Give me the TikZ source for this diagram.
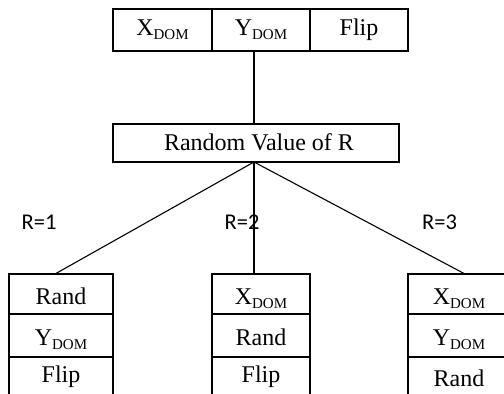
\documentclass[tikz,border=0pt]{standalone}
\usepackage{fontspec}
\setmainfont{Liberation Serif}
\newfontfamily\labfont{Carlito}
\newcommand{\dom}[1]{#1\raisebox{-4pt}{\fontsize{15}{15}\selectfont DOM}}
\begin{document}
\begin{tikzpicture}[x=1pt,y=-1pt,
  cell/.style={draw, line width=1.1pt, inner sep=0pt, font=\fontsize{24}{26}\selectfont, anchor=center},
  rowtop/.style={cell, minimum height=42pt, text height=15pt, text depth=5pt},
  rowa/.style={cell, minimum height=40pt, text height=22pt, text depth=2pt},
  rowb/.style={cell, minimum height=43pt, text height=21pt, text depth=2pt},
  rowc/.style={cell, minimum height=39pt, text height=15pt, text depth=4pt},
  rlab/.style={font=\labfont\fontsize{22.5}{24}\selectfont, anchor=base, inner sep=0pt},
  conn/.style={line width=1.1pt}]
\useasboundingbox (0,0) rectangle (504,394);
\clip (0,0) rectangle (504,394);
\fill[white] (0,0) rectangle (504,394);
% top box
\node[rowtop, minimum width=99pt] (tx) at (162.5,30) {\dom{X}};
\node[rowtop, minimum width=98pt] (ty) at (261,30) {\dom{Y}};
\node[rowtop, minimum width=98pt] (tf) at (359,30) {Flip};
% random value box
\node[cell, minimum width=286pt, minimum height=38pt, text height=16pt, text depth=2pt] (rv) at (256,143) {\hspace*{6pt}Random Value of R};
% connector points
\coordinate (ta) at (254,51);
\coordinate (rt) at (254,124);
\coordinate (rb) at (254,162);
\coordinate (la) at (55,274);
\coordinate (ma) at (254,274);
\coordinate (ra) at (465,274);
\draw[conn] (ta) -- (rt);
\draw[conn] (rb) -- (la);
\draw[conn] (rb) -- (ma);
\draw[conn] (rb) -- (ra);
% labels
\node[rlab] (l1) at (39,229) {R=1};
\node[rlab] (l2) at (242,229) {R=2};
\node[rlab] (l3) at (439.5,229) {R=3};
% left box
\node[rowa, minimum width=104pt] (a1) at (61,294) {Rand};
\node[rowb, minimum width=104pt] (a2) at (61,335.5) {\dom{Y}};
\node[rowc, minimum width=104pt] (a3) at (61,376.5) {Flip};
% middle box
\node[rowa, minimum width=98pt] (b1) at (261,294) {\dom{X}};
\node[rowb, minimum width=98pt] (b2) at (261,335.5) {Rand};
\node[rowc, minimum width=98pt] (b3) at (261,376.5) {Flip};
% right box
\node[rowa, minimum width=102pt] (c1) at (459,294) {\dom{X}};
\node[rowb, minimum width=102pt] (c2) at (459,335.5) {\dom{Y}};
\node[rowc, minimum width=102pt, text height=19pt, text depth=0pt] (c3) at (459,376.5) {Rand};
\end{tikzpicture}
\end{document}
